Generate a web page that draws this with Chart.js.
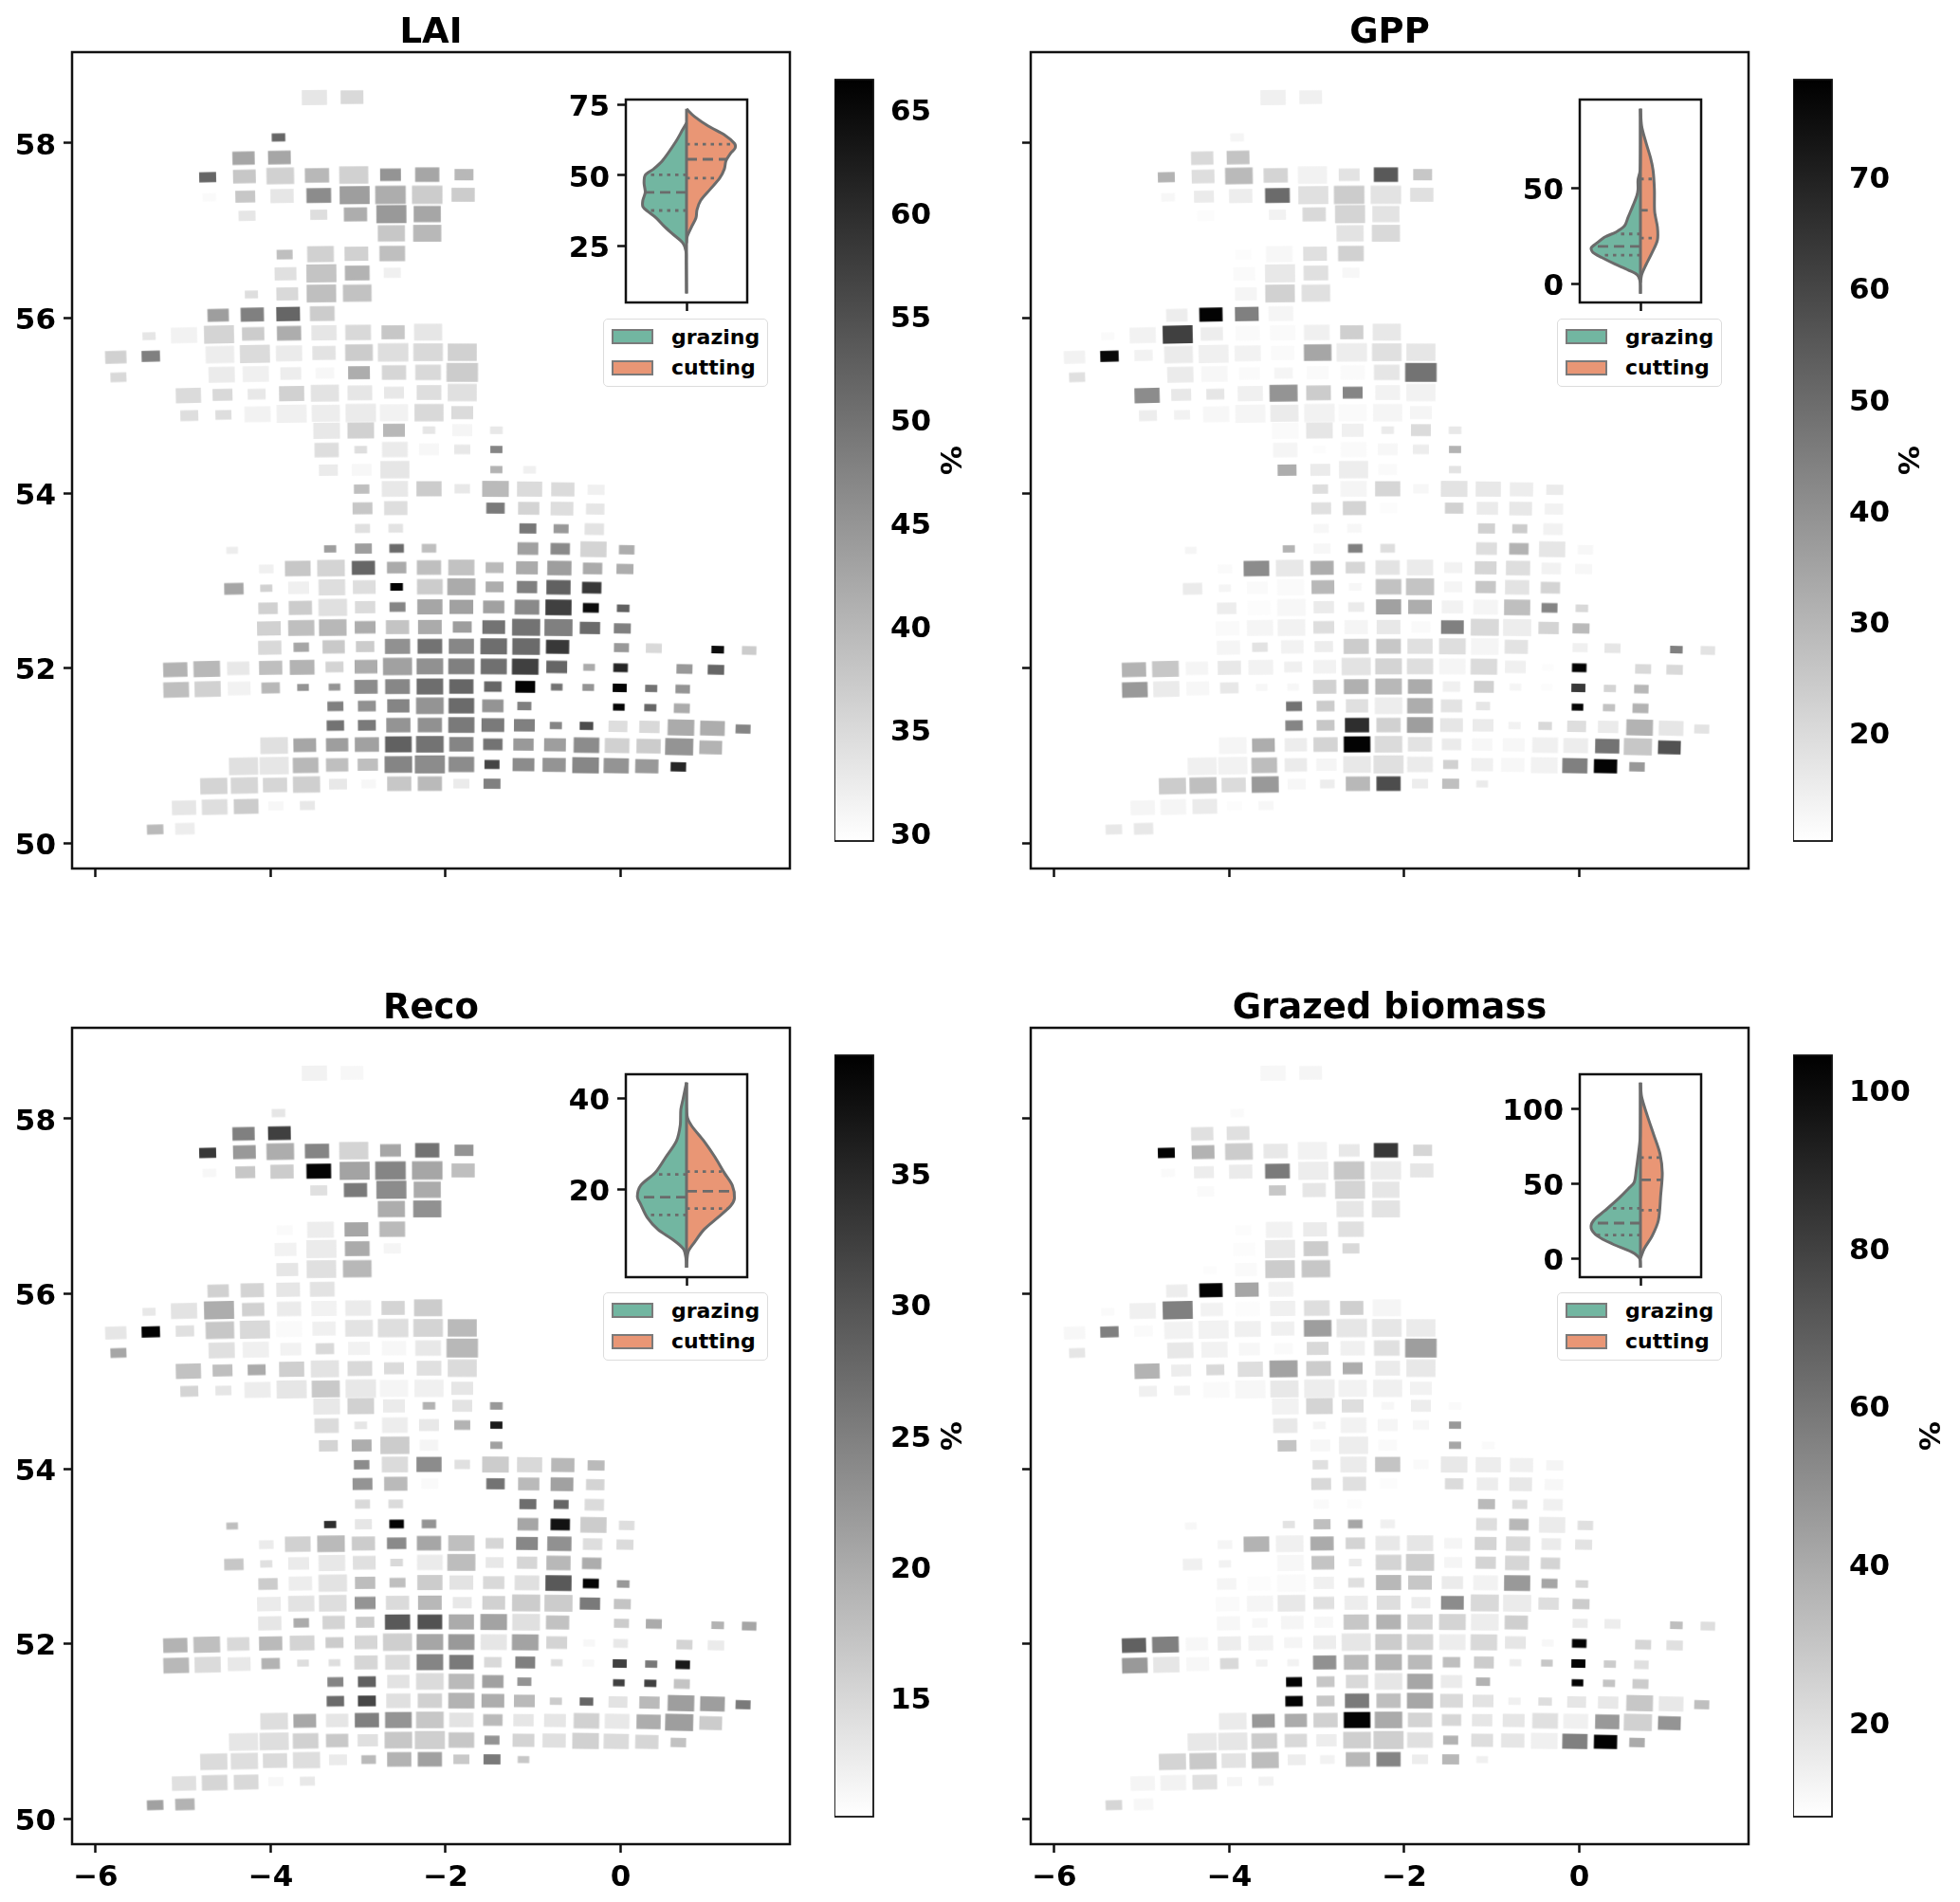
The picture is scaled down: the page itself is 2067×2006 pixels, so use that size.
<!DOCTYPE html>
<html>
<head>
<meta charset="utf-8">
<script src="https://cdn.jsdelivr.net/npm/chart.js@4"></script>
<style>
    html, body { margin: 0; padding: 0; background: #fff; }
    body { position: relative; width: 2067px; height: 2006px; overflow: hidden; font-family: "DejaVu Sans", sans-serif; }
    canvas { position: absolute; }
    .legend { position: absolute; box-sizing: border-box; width: 174px; height: 72px; background: #fff; border: 1.5px solid #dcdcdc; border-radius: 5px; }
    .legend i { position: absolute; left: 8px; width: 44px; height: 16px; box-sizing: border-box; border: 2px solid #7a7a7a; }
    .legend span { position: absolute; left: 71px; font-size: 22px; font-weight: bold; line-height: 26px; color: #000; }
</style>
</head>
<body>
<script>
// one latitude per grid row, north to south
const rowLat = [58.53, 58.08, 57.85, 57.64, 57.41, 57.19, 56.97, 56.74, 56.52, 56.29, 56.06, 55.84, 55.61, 55.38, 55.15, 54.92, 54.72, 54.50, 54.27, 54.05, 53.83, 53.60, 53.37, 53.15, 52.93, 52.70, 52.47, 52.25, 52.02, 51.79, 51.57, 51.35, 51.13, 50.90, 50.68, 50.44, 50.20];

const cellLon = [
    [-3.50, -3.07],
    [-3.91],
    [-4.31, -3.90],
    [-4.72, -4.30, -3.89, -3.47, -3.05, -2.63, -2.21, -1.79],
    [-4.70, -4.29, -3.87, -3.45, -3.04, -2.63, -2.21, -1.80],
    [-4.27, -3.45, -3.03, -2.62, -2.21],
    [-2.62, -2.21],
    [-3.84, -3.43, -3.02, -2.61],
    [-3.83, -3.42, -3.01, -2.61],
    [-4.22, -3.81, -3.42, -3.01],
    [-4.60, -4.21, -3.80, -3.41],
    [-5.39, -4.99, -4.59, -4.20, -3.79, -3.39, -3.00, -2.60, -2.20],
    [-5.77, -5.37, -4.98, -4.58, -4.18, -3.79, -3.39, -2.99, -2.60, -2.20, -1.81],
    [-5.74, -4.56, -4.17, -3.77, -3.38, -2.99, -2.59, -2.20, -1.81],
    [-4.94, -4.55, -4.16, -3.76, -3.38, -2.98, -2.59, -2.19, -1.81],
    [-4.93, -4.54, -4.15, -3.76, -3.37, -2.97, -2.59, -2.19, -1.81],
    [-3.36, -2.97, -2.59, -2.19, -1.81, -1.42],
    [-3.36, -2.97, -2.58, -2.19, -1.81, -1.42],
    [-3.34, -2.96, -2.58, -2.19, -1.42, -1.04],
    [-2.96, -2.58, -2.19, -1.81, -1.43, -1.04, -0.66, -0.28],
    [-2.95, -2.57, -2.18, -1.43, -1.05, -0.67, -0.29],
    [-2.95, -2.57, -1.06, -0.68, -0.30],
    [-4.44, -3.32, -2.94, -2.56, -2.19, -1.06, -0.69, -0.31, 0.07],
    [-4.05, -3.69, -3.31, -2.94, -2.56, -2.19, -1.82, -1.44, -1.07, -0.70, -0.32, 0.05],
    [-4.42, -4.05, -3.68, -3.30, -2.93, -2.56, -2.18, -1.82, -1.44, -1.07, -0.71, -0.33],
    [-4.03, -3.66, -3.29, -2.92, -2.55, -2.18, -1.82, -1.45, -1.07, -0.71, -0.34, 0.03],
    [-4.02, -3.65, -3.29, -2.92, -2.55, -2.18, -1.81, -1.45, -1.08, -0.71, -0.35, 0.02],
    [-4.01, -3.65, -3.28, -2.92, -2.55, -2.18, -1.82, -1.45, -1.08, -0.72, 0.01, 0.38, 1.11, 1.47],
    [-5.09, -4.73, -4.37, -4.00, -3.64, -3.27, -2.91, -2.55, -2.18, -1.82, -1.45, -1.09, -0.73, -0.36, 0.00, 0.73, 1.09],
    [-5.08, -4.72, -4.36, -4.00, -3.63, -3.27, -2.91, -2.55, -2.18, -1.82, -1.46, -1.09, -0.73, -0.37, -0.01, 0.35, 0.71],
    [-3.26, -2.90, -2.54, -2.18, -1.82, -1.46, -1.10, -0.02, 0.34, 0.70],
    [-3.26, -2.90, -2.54, -2.18, -1.82, -1.46, -1.10, -0.74, -0.39, -0.03, 0.33, 0.69, 1.05, 1.40],
    [-3.96, -3.61, -3.24, -2.90, -2.54, -2.18, -1.82, -1.46, -1.11, -0.75, -0.39, -0.04, 0.32, 0.67, 1.03],
    [-4.31, -3.96, -3.60, -3.24, -2.89, -2.54, -2.18, -1.82, -1.47, -1.11, -0.76, -0.40, -0.05, 0.30, 0.66],
    [-4.65, -4.30, -3.95, -3.59, -3.23, -2.88, -2.53, -2.18, -1.82, -1.47, -1.11],
    [-4.99, -4.64, -4.28, -3.94, -3.58],
    [-5.32, -4.98],
];

// grassland share of each cell, sets the drawn size of the rectangle
const cellShare = [
    [52, 47],
    [28],
    [46, 47],
    [35, 47, 57, 50, 60, 43, 50, 39],
    [28, 41, 48, 51, 62, 63, 63, 48],
    [35, 35, 48, 62, 56],
    [56, 58],
    [33, 55, 49, 53],
    [45, 62, 51, 35],
    [27, 45, 61, 59],
    [44, 48, 49, 51],
    [27, 54, 62, 46, 50, 52, 53, 48, 58],
    [44, 38, 38, 59, 62, 54, 48, 57, 63, 61, 60],
    [33, 54, 54, 43, 38, 45, 50, 53, 65],
    [52, 41, 37, 52, 58, 51, 41, 51, 60],
    [37, 33, 54, 62, 58, 63, 58, 60, 45],
    [55, 55, 45, 26, 41, 26],
    [50, 26, 53, 41, 33, 25],
    [39, 41, 60, 38, 25, 26],
    [32, 54, 52, 32, 55, 52, 48, 35],
    [41, 48, 35, 38, 44, 47, 38],
    [31, 30, 35, 31, 40],
    [24, 25, 35, 30, 30, 43, 40, 54, 32],
    [30, 53, 57, 48, 40, 50, 54, 37, 45, 50, 40, 35],
    [40, 25, 43, 55, 47, 26, 53, 58, 37, 42, 50, 40],
    [40, 48, 59, 42, 33, 52, 49, 44, 51, 54, 33, 26],
    [49, 54, 57, 43, 48, 49, 39, 47, 58, 58, 42, 35],
    [48, 32, 46, 38, 52, 51, 52, 55, 57, 48, 31, 33, 26, 30],
    [50, 55, 46, 48, 51, 37, 47, 60, 55, 54, 54, 55, 43, 24, 30, 33, 34],
    [53, 54, 47, 38, 24, 24, 48, 51, 55, 50, 36, 41, 24, 24, 29, 25, 30],
    [33, 37, 46, 57, 53, 44, 29, 24, 25, 33],
    [36, 37, 50, 50, 54, 47, 43, 25, 28, 39, 42, 55, 51, 31],
    [57, 47, 46, 50, 55, 57, 50, 40, 42, 45, 53, 51, 50, 58, 47],
    [60, 60, 53, 46, 42, 57, 62, 53, 31, 45, 48, 55, 52, 48, 32],
    [56, 56, 50, 56, 37, 30, 50, 50, 33, 35, 24],
    [50, 53, 51, 31, 31],
    [34, 40],
];

// position along each colour bar, 0 = bottom, 100 = top, for every cell
const laiLevel = [
    [10, 15],
    [60],
    [35, 35],
    [60, 22, 18, 28, 18, 42, 35, 28],
    [2, 22, 10, 45, 38, 32, 20, 20],
    [10, 13, 32, 40, 35],
    [22, 28],
    [25, 18, 18, 25],
    [12, 23, 30, 6],
    [13, 15, 25, 24],
    [38, 50, 60, 20],
    [10, 5, 17, 20, 32, 10, 15, 22, 10],
    [18, 50, 0, 7, 14, 8, 11, 20, 13, 15, 18],
    [15, 8, 6, 7, 3, 32, 16, 15, 20],
    [14, 15, 9, 18, 11, 10, 9, 13, 12],
    [13, 13, 5, 6, 7, 8, 5, 15, 14],
    [9, 18, 28, 10, 4, 9],
    [13, 13, 8, 3, 9, 48],
    [8, 3, 10, 0, 30, 6],
    [25, 9, 20, 9, 27, 14, 14, 6],
    [22, 13, 0, 52, 17, 13, 10],
    [12, 11, 53, 40, 11],
    [7, 38, 38, 58, 25, 37, 46, 17, 32],
    [6, 22, 17, 60, 33, 25, 24, 27, 33, 38, 33, 32],
    [35, 18, 6, 13, 13, 99, 20, 33, 32, 50, 62, 78],
    [18, 20, 12, 14, 48, 35, 37, 37, 46, 75, 95, 62],
    [18, 25, 28, 32, 23, 33, 38, 55, 55, 50, 58, 50],
    [15, 35, 21, 20, 43, 55, 47, 57, 58, 78, 40, 15, 95, 20],
    [30, 28, 9, 25, 30, 17, 32, 37, 43, 50, 56, 75, 60, 33, 85, 40, 60],
    [25, 18, 5, 28, 42, 42, 45, 47, 57, 60, 60, 99, 55, 42, 98, 55, 42],
    [50, 43, 48, 42, 58, 42, 50, 98, 60, 33],
    [55, 52, 42, 43, 52, 52, 50, 48, 70, 13, 15, 33, 32, 48],
    [12, 35, 38, 37, 62, 55, 48, 55, 40, 38, 45, 18, 20, 42, 30],
    [12, 10, 28, 25, 25, 48, 45, 45, 73, 45, 42, 47, 42, 40, 85],
    [17, 16, 16, 19, 9, 3, 22, 27, 8, 50, 0],
    [10, 13, 20, 3, 9],
    [27, 7],
];
const gppLevel = [
    [6, 6],
    [4],
    [15, 23],
    [30, 13, 27, 17, 5, 11, 65, 22],
    [3, 8, 7, 58, 12, 20, 11, 12],
    [1, 5, 15, 17, 11],
    [11, 15],
    [1, 3, 12, 18],
    [2, 9, 12, 3],
    [0, 4, 18, 12],
    [7, 99, 50, 4],
    [2, 5, 75, 7, 2, 2, 6, 19, 9],
    [5, 97, 5, 8, 6, 5, 2, 35, 7, 12, 10],
    [12, 8, 3, 2, 4, 2, 2, 10, 55],
    [45, 9, 10, 6, 42, 20, 48, 5, 5],
    [7, 5, 3, 4, 8, 5, 2, 4, 4],
    [2, 10, 6, 8, 14, 9],
    [4, 1, 2, 3, 7, 30],
    [32, 8, 7, 2, 11, 0],
    [13, 4, 16, 3, 11, 9, 7, 8],
    [12, 17, 1, 18, 8, 9, 5],
    [3, 3, 18, 20, 5],
    [4, 30, 3, 50, 13, 13, 30, 10, 3],
    [2, 45, 9, 32, 16, 11, 8, 5, 16, 13, 5, 3],
    [8, 4, 2, 2, 28, 3, 24, 23, 4, 22, 11, 17],
    [7, 1, 3, 8, 8, 37, 32, 5, 4, 25, 48, 15],
    [2, 4, 5, 13, 4, 9, 2, 50, 15, 7, 17, 27],
    [4, 11, 5, 7, 20, 22, 12, 13, 4, 11, 6, 10, 50, 11],
    [30, 22, 4, 9, 5, 6, 5, 11, 17, 13, 4, 14, 6, 1, 99, 15, 15],
    [40, 8, 3, 9, 3, 3, 18, 31, 28, 33, 6, 18, 4, 1, 78, 17, 28],
    [55, 20, 12, 7, 32, 11, 10, 98, 24, 30],
    [48, 22, 82, 18, 38, 10, 8, 5, 15, 13, 8, 30, 10, 11],
    [4, 32, 7, 17, 99, 14, 11, 8, 3, 3, 6, 7, 55, 22, 68],
    [6, 5, 26, 8, 4, 9, 12, 8, 18, 6, 3, 5, 50, 99, 40],
    [20, 25, 14, 40, 3, 7, 28, 70, 7, 25, 8],
    [4, 4, 8, 1, 3],
    [9, 9],
];
const recoLevel = [
    [5, 3],
    [10],
    [50, 75],
    [78, 40, 32, 48, 17, 35, 55, 42],
    [3, 22, 20, 99, 36, 48, 35, 25],
    [0, 12, 52, 45, 33],
    [32, 43],
    [2, 7, 35, 27],
    [5, 8, 33, 4],
    [0, 10, 12, 28],
    [18, 17, 10, 11],
    [9, 11, 32, 18, 8, 5, 8, 17, 20],
    [10, 99, 12, 22, 15, 2, 6, 11, 13, 17, 27],
    [35, 12, 6, 5, 15, 5, 3, 9, 28],
    [24, 25, 33, 19, 11, 15, 14, 12, 14],
    [17, 10, 7, 10, 21, 9, 4, 6, 10],
    [9, 18, 8, 30, 11, 40],
    [14, 10, 7, 9, 30, 90],
    [17, 32, 20, 4, 37, 0],
    [45, 14, 45, 12, 20, 15, 28, 27],
    [42, 27, 2, 55, 27, 37, 17],
    [15, 14, 57, 60, 14],
    [25, 82, 10, 99, 42, 35, 93, 20, 13],
    [8, 18, 27, 20, 46, 35, 25, 16, 47, 43, 13, 14],
    [22, 12, 8, 9, 12, 15, 8, 26, 9, 16, 28, 32],
    [20, 7, 11, 26, 25, 20, 11, 15, 12, 65, 99, 40],
    [8, 11, 13, 42, 14, 28, 9, 18, 20, 20, 52, 23],
    [10, 33, 17, 20, 65, 68, 33, 36, 12, 24, 20, 33, 30, 35],
    [30, 25, 15, 27, 17, 20, 16, 19, 35, 40, 10, 36, 17, 3, 9, 17, 8],
    [28, 14, 9, 30, 13, 13, 16, 14, 48, 52, 15, 50, 13, 3, 75, 53, 90],
    [48, 62, 11, 14, 27, 37, 42, 75, 75, 23],
    [58, 72, 12, 18, 30, 32, 27, 20, 60, 11, 27, 38, 38, 52],
    [13, 34, 10, 50, 42, 22, 11, 27, 10, 10, 18, 9, 32, 38, 20],
    [10, 13, 18, 21, 12, 22, 19, 22, 42, 17, 12, 18, 14, 16, 24],
    [14, 13, 14, 13, 8, 27, 30, 37, 21, 52, 22],
    [12, 16, 15, 3, 9],
    [37, 30],
];
const grazedLevel = [
    [3, 4],
    [2],
    [12, 12],
    [99, 30, 20, 9, 5, 9, 78, 16],
    [2, 7, 8, 52, 7, 22, 8, 10],
    [2, 22, 10, 17, 10],
    [10, 11],
    [1, 5, 8, 12],
    [1, 9, 20, 15],
    [1, 2, 20, 22],
    [7, 99, 35, 5],
    [2, 6, 50, 5, 1, 6, 13, 19, 4],
    [3, 50, 2, 5, 5, 6, 6, 38, 10, 10, 8],
    [10, 9, 5, 3, 2, 15, 6, 12, 38],
    [30, 7, 15, 13, 36, 20, 32, 8, 9],
    [6, 5, 2, 3, 9, 7, 5, 6, 5],
    [5, 17, 13, 3, 7, 2],
    [9, 4, 5, 4, 3, 40],
    [23, 3, 7, 2, 35, 2],
    [12, 8, 23, 2, 9, 7, 6, 4],
    [15, 12, 1, 14, 7, 9, 3],
    [2, 1, 27, 13, 6],
    [3, 11, 25, 35, 6, 13, 28, 8, 12],
    [4, 30, 6, 33, 17, 9, 10, 4, 17, 15, 8, 11],
    [6, 5, 0, 3, 23, 8, 17, 20, 4, 17, 16, 17],
    [4, 1, 2, 6, 12, 28, 22, 8, 5, 40, 35, 16],
    [2, 4, 9, 12, 7, 13, 7, 45, 15, 8, 13, 20],
    [3, 3, 4, 3, 22, 30, 17, 17, 7, 19, 8, 7, 25, 13],
    [62, 50, 3, 7, 5, 4, 7, 10, 20, 17, 7, 15, 10, 3, 99, 16, 12],
    [40, 10, 3, 15, 5, 5, 43, 27, 30, 27, 25, 20, 7, 22, 99, 20, 12],
    [99, 22, 15, 10, 35, 8, 30, 99, 23, 20],
    [99, 22, 52, 25, 35, 15, 11, 6, 13, 10, 9, 22, 9, 25],
    [8, 40, 33, 18, 99, 33, 17, 16, 10, 10, 12, 6, 40, 18, 42],
    [9, 10, 20, 15, 7, 19, 19, 12, 30, 13, 10, 6, 50, 99, 33],
    [17, 21, 11, 26, 7, 5, 28, 48, 7, 28, 6],
    [4, 5, 12, 4, 5],
    [16, 3],
];

// colour bar ranges and ticks
const laiRange = [29.64, 66.45];
const gppRange = [10.3, 78.8];
const recoRange = [10.5, 39.5];
const grazedRange = [8.1, 104.4];
const laiBarTicks = [30, 35, 40, 45, 50, 55, 60, 65];
const gppBarTicks = [20, 30, 40, 50, 60, 70];
const recoBarTicks = [15, 20, 25, 30, 35];
const grazedBarTicks = [20, 40, 60, 80, 100];

const lonTicks = [-6, -4, -2, 0];
const latTicks = [50, 52, 54, 56, 58];

// violin outlines as [value, density], quartiles as [value, density at the line end]
const laiGrazing = [[68.5, 0], [66.3, -0.03], [61.8, -0.09], [55.1, -0.2], [52.3, -0.27], [50.1, -0.34], [47.3, -0.35], [44, -0.34], [41.2, -0.36], [39, -0.36], [37.3, -0.32], [35, -0.25], [32.3, -0.19], [29.5, -0.12], [26.1, -0.03], [23.3, -0.005], [19.4, -0.003], [8.3, 0]];
const laiCutting = [[73.5, 0], [70.8, 0.065], [67.4, 0.18], [64.1, 0.32], [61.3, 0.395], [59.6, 0.4], [57.9, 0.365], [55.1, 0.325], [52.3, 0.312], [49, 0.273], [45.1, 0.195], [41.2, 0.117], [37.8, 0.086], [35, 0.078], [31.7, 0.04], [28.3, 0.005], [26.1, 0]];
const laiQuartiles = [[50.2, -0.33], [44, -0.34], [37.6, -0.33], [61, 0.39], [55.7, 0.33], [49, 0.27]];
const gppGrazing = [[91.6, 0], [59.3, -0.003], [54.3, -0.02], [49.3, -0.02], [46, -0.03], [41.1, -0.06], [34.4, -0.104], [30.3, -0.13], [27, -0.2], [24.5, -0.29], [21.2, -0.36], [18.7, -0.406], [16.2, -0.39], [13.7, -0.32], [10.4, -0.216], [7.1, -0.1], [4.6, -0.026], [1.3, -0.003], [-5.3, 0]];
const gppCutting = [[91.6, 0], [82.5, 0.01], [74.2, 0.044], [65.9, 0.083], [59.3, 0.104], [49.3, 0.115], [37.7, 0.117], [29.5, 0.14], [22.8, 0.14], [16.2, 0.096], [9.6, 0.044], [4.6, 0.01], [0.5, 0]];
const gppQuartiles = [[26, -0.2], [19.5, -0.37], [14.9, -0.33], [54.8, 0.11], [38.4, 0.06], [23.8, 0.14]];
const recoGrazing = [[43.5, 0], [39.7, -0.03], [37.6, -0.047], [34.1, -0.052], [30.7, -0.083], [27.2, -0.17], [23.7, -0.26], [21, -0.377], [18.5, -0.405], [16.8, -0.377], [14, -0.325], [11.3, -0.234], [9.2, -0.117], [7.1, -0.026], [5.1, -0.005], [3, 0]];
const recoCutting = [[43.5, 0], [36.2, 0.005], [34.1, 0.04], [30.7, 0.143], [27.2, 0.234], [23.7, 0.312], [21, 0.377], [18.2, 0.395], [16.5, 0.364], [14, 0.26], [11.3, 0.143], [8.5, 0.065], [6.4, 0.013], [3, 0]];
const recoQuartiles = [[23.4, -0.24], [18.4, -0.4], [14.5, -0.32], [24, 0.29], [19.7, 0.37], [15.9, 0.35]];
const grazedGrazing = [[117.3, 0], [80.4, -0.003], [67.8, -0.02], [59.4, -0.034], [50.9, -0.052], [46.7, -0.1], [40.4, -0.177], [32, -0.294], [25.7, -0.385], [20.4, -0.406], [15.2, -0.354], [9.9, -0.23], [4.6, -0.073], [0.4, -0.008], [-5.9, 0]];
const grazedCutting = [[117.3, 0], [107.8, 0.01], [95.2, 0.057], [82.5, 0.11], [69.9, 0.161], [57.3, 0.18], [42.5, 0.167], [25.7, 0.148], [15.2, 0.096], [6.7, 0.031], [0.4, 0]];
const grazedQuartiles = [[33.7, -0.27], [23.8, -0.39], [15.8, -0.36], [67.4, 0.16], [52.6, 0.175], [32.4, 0.155]];

const GRAZING_COLOR = "#72b6a1";
const CUTTING_COLOR = "#e99675";
const OUTLINE = "#6b6b6b";
const AXIS = "#111111";
const TICK_FONT = { size: 31, weight: "bold" };
const SHARE_TO_DEG = 1 / 180.9;
const CELL_ASPECT = 0.6;

Chart.defaults.font.family = "'DejaVu Sans', sans-serif";
Chart.defaults.color = "#000";
Chart.defaults.animation = false;
Chart.defaults.responsive = false;
Chart.defaults.events = [];
Chart.defaults.plugins.legend.display = false;
Chart.defaults.plugins.tooltip.enabled = false;

// box round the plot area on all four sides
Chart.register({
    id: "frame",
    defaults: { lineWidth: 2.5 },
    afterDatasetsDraw(chart, args, opts) {
        const { left, top, width, height } = chart.chartArea;
        chart.ctx.save();
        chart.ctx.strokeStyle = AXIS;
        chart.ctx.lineWidth = opts.lineWidth;
        chart.ctx.strokeRect(left, top, width, height);
        chart.ctx.restore();
    },
});

function addCanvas(left, top, width, height) {
    const canvas = document.createElement("canvas");
    canvas.width = width;
    canvas.height = height;
    canvas.style.left = left + "px";
    canvas.style.top = top + "px";
    document.body.appendChild(canvas);
    return canvas;
}

function tickLabel(value) {
    return value < 0 ? "\u2212" + Math.abs(value) : String(value);
}

function fixedTicks(values) {
    return (scale) => {
        scale.ticks = values.map((value) => ({ value }));
    };
}

function axisGrid(tickLength) {
    return { drawOnChartArea: false, drawTicks: true, tickLength, tickWidth: 2.5, tickColor: AXIS };
}

const cellImages = {};
function cellImage(context) {
    const xScale = context.chart.scales.x;
    const cell = context.raw;
    // chart.js asks for the style once before the scales are laid out
    const width = cell ? xScale.getPixelForValue(cell.share * SHARE_TO_DEG) - xScale.getPixelForValue(0) : NaN;
    if (!(width > 0)) {
        return "rect";
    }
    const height = width * CELL_ASPECT;
    const grey = Math.round(255 * (1 - cell.level / 100));
    const key = cell.share + "_" + grey;
    if (!cellImages[key]) {
        const image = document.createElement("canvas");
        image.width = Math.ceil(width) + 2;
        image.height = Math.ceil(height) + 2;
        const ctx = image.getContext("2d");
        ctx.fillStyle = `rgb(${grey},${grey},${grey})`;
        ctx.fillRect((image.width - width) / 2, (image.height - height) / 2, width, height);
        cellImages[key] = image;
    }
    return cellImages[key];
}

function cellPoints(levels) {
    const points = [];
    rowLat.forEach((lat, row) => {
        cellLon[row].forEach((lon, col) => {
            // grid rows bend away from the central meridian
            points.push({
                x: lon,
                y: lat - 0.004 * (lon + 2) * (lon + 2),
                level: levels[row][col],
                share: cellShare[row][col],
            });
        });
    });
    return points;
}

function drawMap({ title, levels, left, top, height, showLat, showLon }) {
    const marginSide = 76;
    const marginTop = 55;
    const marginBottom = 80;
    const plotWidth = 757;
    const canvas = addCanvas(left - marginSide, top - marginTop, plotWidth + 2 * marginSide, height + marginTop + marginBottom);
    new Chart(canvas, {
        type: "scatter",
        data: {
            datasets: [{
                data: cellPoints(levels),
                pointStyle: cellImage,
                rotation: (context) => (context.raw ? (context.raw.x + 2) * 0.46 : 0),
                pointRadius: 3,
            }],
        },
        options: {
            layout: { padding: { right: marginSide } },
            plugins: {
                title: {
                    display: true,
                    fullSize: false,
                    text: title,
                    font: { size: 37, weight: "bold" },
                    color: "#000",
                    padding: { top: 13.6, bottom: -3 },
                },
            },
            scales: {
                x: {
                    type: "linear",
                    min: -6.27,
                    max: 1.935,
                    border: { display: false },
                    grid: axisGrid(9),
                    afterBuildTicks: fixedTicks(lonTicks),
                    afterFit: (scale) => { scale.height = marginBottom; },
                    ticks: { display: showLon, font: TICK_FONT, padding: 8, maxRotation: 0, callback: tickLabel },
                },
                y: {
                    type: "linear",
                    min: 49.71,
                    max: 59.04,
                    border: { display: false },
                    grid: axisGrid(9),
                    afterBuildTicks: fixedTicks(latTicks),
                    afterFit: (scale) => { scale.width = marginSide; },
                    ticks: { display: showLat, font: TICK_FONT, padding: 8, labelOffset: 3.5, callback: tickLabel },
                },
            },
        },
    });
}

function drawColorBar({ range, ticks, left, top, labelGap }) {
    const barWidth = 41;
    const barHeight = 803;
    const pad = 40;
    const canvas = addCanvas(left, top - pad, barWidth + labelGap + 20, barHeight + 2 * pad);
    new Chart(canvas, {
        type: "bar",
        data: {
            labels: [""],
            datasets: [{
                data: [range],
                barPercentage: 1,
                categoryPercentage: 1,
                backgroundColor: (context) => {
                    const { ctx, chartArea } = context.chart;
                    if (!chartArea) return "#888";
                    const gradient = ctx.createLinearGradient(0, chartArea.bottom, 0, chartArea.top);
                    gradient.addColorStop(0, "#ffffff");
                    gradient.addColorStop(1, "#000000");
                    return gradient;
                },
            }],
        },
        options: {
            layout: { padding: { top: pad, bottom: pad } },
            plugins: { frame: { lineWidth: 1.8 } },
            scales: {
                x: { display: false },
                y: {
                    type: "linear",
                    position: "right",
                    min: range[0],
                    max: range[1],
                    border: { display: false },
                    grid: { display: false, drawTicks: false },
                    afterBuildTicks: fixedTicks(ticks),
                    afterFit: (scale) => { scale.width = labelGap + 20; },
                    ticks: { font: TICK_FONT, padding: 18, labelOffset: 3, callback: tickLabel },
                    title: { display: true, text: "%", font: TICK_FONT, color: "#000", padding: 0 },
                },
            },
        },
    });
}

function toPoints(pairs) {
    return pairs.map(([value, density]) => ({ x: density, y: value }));
}

function drawViolin({ grazing, cutting, quartiles, yRange, yTicks, left, top }) {
    const marginLeft = 130;
    const marginRight = 10;
    const marginTop = 30;
    const marginBottom = 30;
    const plotWidth = 128;
    const plotHeight = 214;
    const canvas = addCanvas(left - marginLeft, top - marginTop, plotWidth + marginLeft + marginRight, plotHeight + marginTop + marginBottom);

    const half = (pairs, color) => ({
        data: toPoints(pairs),
        fill: { value: 0 },
        backgroundColor: color,
        borderColor: OUTLINE,
        borderWidth: 3,
        tension: 0.3,
        pointRadius: 0,
    });
    const allValues = [...grazing, ...cutting].map((pair) => pair[0]);
    const centre = {
        data: [{ x: 0, y: Math.max(...allValues) }, { x: 0, y: Math.min(...allValues) }],
        borderColor: OUTLINE,
        borderWidth: 3,
        pointRadius: 0,
        fill: false,
    };
    // each side: upper quartile, median, lower quartile
    const quartileLines = quartiles.map(([value, density], index) => ({
        data: [{ x: 0, y: value }, { x: density, y: value }],
        borderColor: OUTLINE,
        borderWidth: 2.8,
        borderDash: index % 3 === 1 ? [11, 6] : [3.5, 5],
        pointRadius: 0,
        fill: false,
    }));

    // chart.js paints the first dataset last, so the lines go in front
    new Chart(canvas, {
        type: "line",
        data: { datasets: [centre, ...quartileLines, half(grazing, GRAZING_COLOR), half(cutting, CUTTING_COLOR)] },
        options: {
            indexAxis: "y",
            layout: { padding: { top: marginTop, right: marginRight } },
            scales: {
                x: {
                    type: "linear",
                    min: -0.5,
                    max: 0.5,
                    border: { display: false },
                    grid: axisGrid(9),
                    afterBuildTicks: fixedTicks([0]),
                    afterFit: (scale) => { scale.height = marginBottom; },
                    ticks: { display: false },
                },
                y: {
                    type: "linear",
                    min: yRange[0],
                    max: yRange[1],
                    border: { display: false },
                    grid: axisGrid(9),
                    afterBuildTicks: fixedTicks(yTicks),
                    afterFit: (scale) => { scale.width = marginLeft; },
                    ticks: { font: TICK_FONT, padding: 8, labelOffset: 3.5, callback: tickLabel },
                },
            },
        },
    });
}

function drawLegend(left, top) {
    const box = document.createElement("div");
    box.className = "legend";
    box.style.left = left + "px";
    box.style.top = top + "px";
    box.innerHTML =
        `<i style="top:10px;background:${GRAZING_COLOR}"></i><span style="top:6px">grazing</span>` +
        `<i style="top:43px;background:${CUTTING_COLOR}"></i><span style="top:38px">cutting</span>`;
    document.body.appendChild(box);
}

const panels = [
    { title: "LAI", levels: laiLevel, range: laiRange, barTicks: laiBarTicks, grazing: laiGrazing, cutting: laiCutting, quartiles: laiQuartiles, yRange: [5.1, 76.8], yTicks: [25, 50, 75], col: 0, row: 0, labelGap: 78 },
    { title: "GPP", levels: gppLevel, range: gppRange, barTicks: gppBarTicks, grazing: gppGrazing, cutting: gppCutting, quartiles: gppQuartiles, yRange: [-9.9, 96.4], yTicks: [0, 50], col: 1, row: 0, labelGap: 77 },
    { title: "Reco", levels: recoLevel, range: recoRange, barTicks: recoBarTicks, grazing: recoGrazing, cutting: recoCutting, quartiles: recoQuartiles, yRange: [0.9, 45.3], yTicks: [20, 40], col: 0, row: 1, labelGap: 78 },
    { title: "Grazed biomass", levels: grazedLevel, range: grazedRange, barTicks: grazedBarTicks, grazing: grazedGrazing, cutting: grazedCutting, quartiles: grazedQuartiles, yRange: [-12.2, 122.9], yTicks: [0, 50, 100], col: 1, row: 1, labelGap: 99 },
];

panels.forEach((panel) => {
    const dx = panel.col * 1010.5;
    const dy = panel.row * 1029.4;
    // the insets of the lower row sit slightly higher in their panels
    const insetDy = panel.row * 1027.4;
    drawMap({
        title: panel.title,
        levels: panel.levels,
        left: 76 + dx,
        top: 55 + dy,
        height: 861,
        showLat: panel.col === 0,
        showLon: panel.row === 1,
    });
    drawColorBar({ range: panel.range, ticks: panel.barTicks, left: 880 + dx, top: 84 + dy, labelGap: panel.labelGap });
    drawViolin({
        grazing: panel.grazing,
        cutting: panel.cutting,
        quartiles: panel.quartiles,
        yRange: panel.yRange,
        yTicks: panel.yTicks,
        left: 659.5 + panel.col * 1006,
        top: 105.3 + insetDy,
    });
    drawLegend(636 + panel.col * 1006, 336 + insetDy);
});
</script>
</body>
</html>
